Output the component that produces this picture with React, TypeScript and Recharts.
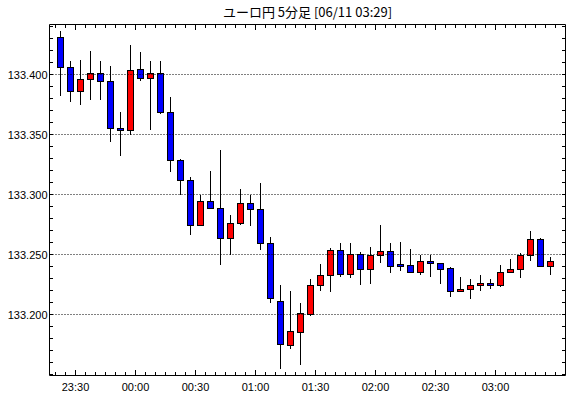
import React from "react";
import { Bar, ComposedChart, ReferenceLine, XAxis, YAxis } from "recharts";

// 5-minute candles, 23:20 .. 03:25
const times = [
  "23:20", "23:25", "23:30", "23:35", "23:40", "23:45", "23:50", "23:55",
  "00:00", "00:05", "00:10", "00:15", "00:20", "00:25", "00:30", "00:35",
  "00:40", "00:45", "00:50", "00:55", "01:00", "01:05", "01:10", "01:15",
  "01:20", "01:25", "01:30", "01:35", "01:40", "01:45", "01:50", "01:55",
  "02:00", "02:05", "02:10", "02:15", "02:20", "02:25", "02:30", "02:35",
  "02:40", "02:45", "02:50", "02:55", "03:00", "03:05", "03:10", "03:15",
  "03:20", "03:25",
];

const opens = [
  133.431, 133.406, 133.386, 133.396, 133.401, 133.395, 133.3555, 133.354, 133.405, 133.397,
  133.401, 133.369, 133.329, 133.312, 133.275, 133.2945, 133.289, 133.2635, 133.2764, 133.2933,
  133.2878, 133.2597, 133.2114, 133.1747, 133.1856, 133.2003, 133.2247, 133.2331, 133.2539, 133.2339,
  133.2506, 133.2381, 133.25, 133.253, 133.2417, 133.2414, 133.2356, 133.2447, 133.2431, 133.2389,
  133.2197, 133.2214, 133.2247, 133.2264, 133.2247, 133.2356, 133.2381, 133.2497, 133.2631, 133.2406,
];
const highs = [
  133.436, 133.411, 133.412, 133.42, 133.411, 133.4075, 133.369, 133.425, 133.419, 133.411,
  133.411, 133.381, 133.33, 133.315, 133.2995, 133.32, 133.3375, 133.2833, 133.3047, 133.2997,
  133.31, 133.265, 133.225, 133.2192, 133.2092, 133.23, 133.2417, 133.2558, 133.26, 133.2592,
  133.2517, 133.2564, 133.275, 133.2592, 133.2608, 133.2542, 133.25, 133.25, 133.2431, 133.2397,
  133.2314, 133.2297, 133.2331, 133.2297, 133.2414, 133.2464, 133.2514, 133.27, 133.2639, 133.2481,
];
const lows = [
  133.382, 133.377, 133.375, 133.379, 133.379, 133.344, 133.332, 133.35, 133.395, 133.354,
  133.367, 133.319, 133.3, 133.266, 133.275, 133.2878, 133.241, 133.2494, 133.2744, 133.2736,
  133.2539, 133.2094, 133.1544, 133.1711, 133.1578, 133.1986, 133.2194, 133.2186, 133.2311, 133.2306,
  133.2247, 133.2256, 133.2431, 133.2344, 133.236, 133.2344, 133.2328, 133.2311, 133.2253, 133.2147,
  133.2189, 133.2128, 133.2197, 133.2214, 133.2231, 133.2347, 133.2306, 133.2444, 133.2406, 133.2331,
];
const closes = [
  133.406, 133.386, 133.396, 133.401, 133.395, 133.3555, 133.354, 133.404, 133.397, 133.401,
  133.369, 133.329, 133.312, 133.275, 133.2945, 133.289, 133.2635, 133.2764, 133.2933, 133.2878,
  133.2597, 133.2139, 133.1756, 133.1864, 133.2014, 133.2247, 133.2331, 133.2539, 133.2339, 133.2506,
  133.2381, 133.2497, 133.253, 133.2403, 133.2403, 133.2356, 133.2447, 133.2431, 133.2381, 133.2197,
  133.2214, 133.2247, 133.2264, 133.2247, 133.2356, 133.2381, 133.2497, 133.2631, 133.2406, 133.2447,
];

const xLabels = ["23:30", "00:00", "00:30", "01:00", "01:30", "02:00", "02:30", "03:00"];
const xLabelPos = [1.5, 7.5, 13.5, 19.5, 25.5, 31.5, 37.5, 43.5];
const gridLevels = [133.2, 133.25, 133.3, 133.35, 133.4];

const X_DOMAIN: [number, number] = [-1.05, 50.55];
const Y_DOMAIN: [number, number] = [133.149167, 133.441667];
const FONT = '"Liberation Sans", Arial, sans-serif';

const data = times.map((t, i) => ({
  i,
  time: t,
  open: opens[i],
  high: highs[i],
  low: lows[i],
  close: closes[i],
}));

const xTicks = Array.from({ length: 51 }, (_, k) => k - 0.5);
const yTicks = Array.from({ length: 30 }, (_, k) => Math.round((133.15 + k * 0.01) * 100) / 100);

function Candle(props: any) {
  const { x, y, width, height, payload } = props;
  if (!payload) return null;
  const { open, high, low, close } = payload;
  const top = Math.min(y, y + height);
  const h = Math.abs(height);
  const py = (v: number) => top + ((high - v) / (high - low)) * h;
  const cx = Math.round(x + width / 2);
  const bTop = Math.round(py(Math.max(open, close)));
  const bBot = Math.max(bTop + 1, Math.round(py(Math.min(open, close))));
  return (
    <g>
      <line x1={cx + 0.5} x2={cx + 0.5} y1={Math.round(top)} y2={Math.round(top + h)} stroke="#000" />
      <rect
        x={cx - 2.5}
        y={bTop + 0.5}
        width={6}
        height={bBot - bTop}
        fill={close >= open ? "#ff0000" : "#0000ff"}
        stroke="#000"
      />
    </g>
  );
}

function BottomTick({ x, y, payload }: any) {
  const k = xLabelPos.indexOf(payload.value);
  const px = Math.round(x - 0.5) + 0.5;
  const base = Math.floor(y);
  return (
    <g>
      <line x1={px} x2={px} y1={base} y2={base - (k >= 0 ? 5 : 3)} stroke="#000" />
      {k >= 0 && (
        <text x={px} y={y + 11} textAnchor="middle" dominantBaseline="central" fontFamily={FONT} fontSize={11} fill="#000">
          {xLabels[k]}
        </text>
      )}
    </g>
  );
}

function TopTick({ x, y, payload }: any) {
  const major = xLabelPos.includes(payload.value);
  const px = Math.round(x - 0.5) + 0.5;
  const base = Math.ceil(y);
  return <line x1={px} x2={px} y1={base} y2={base + (major ? 5 : 3)} stroke="#000" />;
}

function LeftTick({ x, y, payload }: any) {
  const v = payload.value as number;
  const py = Math.round(y - 0.5) + 0.5;
  const labelled = gridLevels.some((g) => Math.abs(g - v) < 1e-6);
  return (
    <g>
      <line x1={Math.ceil(x)} x2={Math.ceil(x) + 3} y1={py} y2={py} stroke="#000" />
      {labelled && (
        <text x={x - 2} y={py} textAnchor="end" dominantBaseline="central" fontFamily={FONT} fontSize={11} fill="#000">
          {v.toFixed(3)}
        </text>
      )}
    </g>
  );
}

function RightTick({ x, y }: any) {
  const py = Math.round(y - 0.5) + 0.5;
  return <line x1={Math.floor(x)} x2={Math.floor(x) - 3} y1={py} y2={py} stroke="#000" />;
}

export default function App() {
  return (
    <div style={{ position: "absolute", left: 0, top: 0, width: 570, height: 398, background: "#fff" }}>
      <div
        style={{
          position: "absolute",
          left: 49,
          top: 3,
          width: 517,
          textAlign: "center",
          fontFamily: '"Noto Sans CJK JP", "Liberation Sans", sans-serif',
          fontSize: 13,
          lineHeight: "17px",
          color: "#000",
        }}
      >
        ユーロ円 5分足 [06/11 03:29]
      </div>
      <ComposedChart width={570} height={398} data={data} margin={{ top: 0, right: 0, bottom: 0, left: 0 }}>
        <XAxis
          xAxisId="b"
          dataKey="i"
          type="number"
          domain={X_DOMAIN}
          allowDataOverflow
          ticks={xTicks}
          interval={0}
          height={22.5}
          tickSize={0}
          tickMargin={0}
          tickLine={false}
          axisLine={{ stroke: "#000" }}
          tick={<BottomTick />}
        />
        <XAxis
          xAxisId="t"
          dataKey="i"
          type="number"
          orientation="top"
          domain={X_DOMAIN}
          allowDataOverflow
          ticks={xTicks}
          interval={0}
          height={24.5}
          tickSize={0}
          tickMargin={0}
          tickLine={false}
          axisLine={{ stroke: "#000" }}
          tick={<TopTick />}
        />
        <YAxis
          yAxisId="l"
          type="number"
          domain={Y_DOMAIN}
          allowDataOverflow
          ticks={yTicks}
          interval={0}
          width={49.5}
          tickSize={0}
          tickMargin={0}
          tickLine={false}
          axisLine={{ stroke: "#000" }}
          tick={<LeftTick />}
        />
        <YAxis
          yAxisId="r"
          orientation="right"
          type="number"
          domain={Y_DOMAIN}
          allowDataOverflow
          ticks={yTicks}
          interval={0}
          width={4.5}
          tickSize={0}
          tickMargin={0}
          tickLine={false}
          axisLine={{ stroke: "#000" }}
          tick={<RightTick />}
        />
        {gridLevels.map((v) => (
          <ReferenceLine key={v} xAxisId="b" yAxisId="l" y={v} stroke="#000" strokeDasharray="1 2" />
        ))}
        <Bar
          xAxisId="b"
          yAxisId="l"
          dataKey={(d: any) => [d.low, d.high]}
          barSize={7}
          shape={<Candle />}
          isAnimationActive={false}
        />
      </ComposedChart>
    </div>
  );
}
